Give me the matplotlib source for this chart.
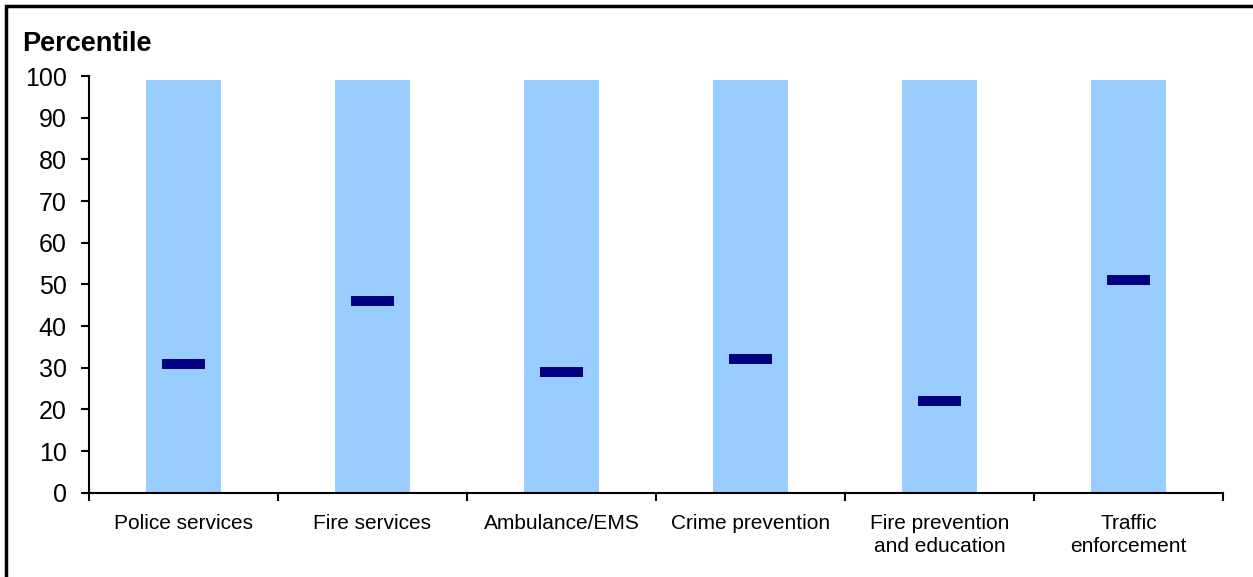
import matplotlib.pyplot as plt
import numpy as np

plt.rcParams['font.family'] = ['Liberation Sans', 'DejaVu Sans']

categories = ['Police services', 'Fire services', 'Ambulance/EMS', 'Crime prevention',
              'Fire prevention\nand education', 'Traffic\nenforcement']
range_top = [99, 99, 99, 99, 99, 99]
percentiles = [31, 46, 29, 32, 22, 51]

fig = plt.figure(figsize=(12.53, 5.77), dpi=100)
ax = fig.add_axes([0.071, 0.146, 0.905, 0.722])

x = np.arange(len(categories))
ax.bar(x, range_top, width=0.40, color='#99CCFF', zorder=1)
ax.bar(x, 2.4, bottom=np.array(percentiles) - 1.2, width=0.23, color='#000080', zorder=2)

ax.set_xlim(-0.5, len(categories) - 0.5)
ax.set_ylim(0, 100)
ax.set_yticks(range(0, 101, 10))
ax.tick_params(axis='y', labelsize=18, length=6, width=1.5, direction='out', pad=10)

# category labels centred, ticks on boundaries
ax.set_xticks(np.arange(-0.5, len(categories), 1.0))
ax.set_xticklabels([])
ax.tick_params(axis='x', length=6, width=1.5, direction='out')
ax.set_xticks(x, minor=True)
ax.set_xticklabels(categories, minor=True, fontsize=15, linespacing=1.3)
ax.tick_params(axis='x', which='minor', length=0, pad=15)

for s in ['top', 'right']:
    ax.spines[s].set_visible(False)
for s in ['left', 'bottom']:
    ax.spines[s].set_linewidth(1.5)

fig.text(0.018, 0.923, 'Percentile', fontsize=19.5, fontweight='bold', va='center')

# frame round the chart (cut off at right and bottom)
fig.add_artist(plt.Rectangle((0.005, -0.1), 1.2, 1.09, transform=fig.transFigure,
                             fill=False, lw=2.5, edgecolor='black'))

fig.savefig('out.png', dpi=100)
